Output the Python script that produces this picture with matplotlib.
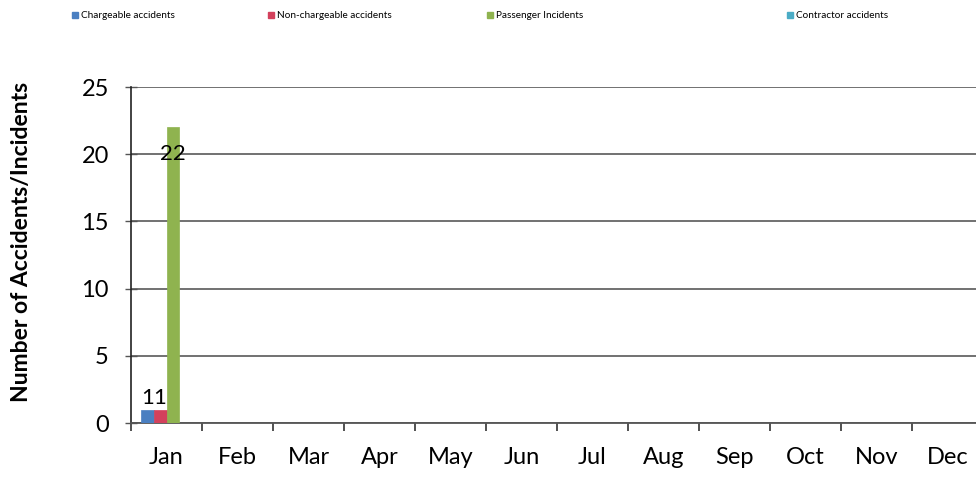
import numpy as np
import matplotlib
matplotlib.use('Agg')
import matplotlib.pyplot as plt
from matplotlib.patches import Patch

months = ['Jan', 'Feb', 'Mar', 'Apr', 'May', 'Jun',
          'Jul', 'Aug', 'Sep', 'Oct', 'Nov', 'Dec']
series = ['Chargeable accidents', 'Non-chargeable accidents',
          'Passenger Incidents', 'Contractor accidents']
chargeable = [1]
non_chargeable = [1]
passenger = [22]
contractor = [0]
values = [chargeable, non_chargeable, passenger, contractor]
colors = ['#4a7fc1', '#d3415c', '#8fb34f', '#4bacc6']

plt.rcParams['font.family'] = ['Lato', 'DejaVu Sans']

fig = plt.figure(figsize=(9.76, 4.79), dpi=100)
ax = fig.add_axes([131 / 976, 1 - 423 / 479, 852 / 976, (423 - 87) / 479])

w = 0.18
x = np.arange(len(months))
for i, (vals, c) in enumerate(zip(values, colors)):
    xs = x[:len(vals)] + (i - 1.5) * w
    bars = ax.bar(xs, vals, width=w, color=c, edgecolor=c, linewidth=0.5, zorder=3)
    for b, v in zip(bars, vals):
        if v == 0:
            continue
        if v > 5:
            ax.annotate(str(v), (b.get_x() + b.get_width() / 2, v), xytext=(0, -12),
                        textcoords='offset points', ha='center', va='top',
                        fontsize=16, zorder=4)
        else:
            ax.annotate(str(v), (b.get_x() + b.get_width() / 2, v), xytext=(0, 1),
                        textcoords='offset points', ha='center', va='bottom',
                        fontsize=16, zorder=4)

ax.set_xlim(-0.5, len(months) - 0.5)
ax.set_ylim(0, 25)
ax.set_yticks(range(0, 26, 5))
ax.yaxis.grid(True, color='#666666', linewidth=1.3, zorder=0)
ax.set_axisbelow(True)

ax.set_xticks(x)
ax.set_xticklabels(months, fontsize=17)
ax.set_xticks(np.arange(-0.5, len(months), 1), minor=True)
ax.tick_params(axis='x', which='major', length=0, pad=17)
ax.tick_params(axis='x', which='minor', length=6, width=1.2, color='#333333',
               direction='out')
ax.tick_params(axis='y', labelsize=17, length=8, width=1, direction='inout',
               color='#555555', pad=12)

for s in ['top', 'right']:
    ax.spines[s].set_visible(False)
ax.spines['left'].set_color('#222222')
ax.spines['left'].set_linewidth(1.2)
ax.spines['bottom'].set_color('#555555')
ax.spines['bottom'].set_linewidth(1.3)

ax.set_ylabel('Number of Accidents/Incidents', fontsize=16.5, fontweight='bold')
ax.yaxis.set_label_coords(-0.116, 0.54)

legend_x = [72, 268, 487, 787]
for lx, name, c in zip(legend_x, series, colors):
    fig.legend(handles=[Patch(facecolor=c, edgecolor=c)], labels=[name],
               loc='center left', bbox_to_anchor=(lx / 976, 1 - 16 / 479),
               frameon=False, fontsize=7.2, handlelength=0.6, handleheight=0.6,
               handletextpad=0.3, borderpad=0, borderaxespad=0)

fig.savefig('out.png', dpi=100)
